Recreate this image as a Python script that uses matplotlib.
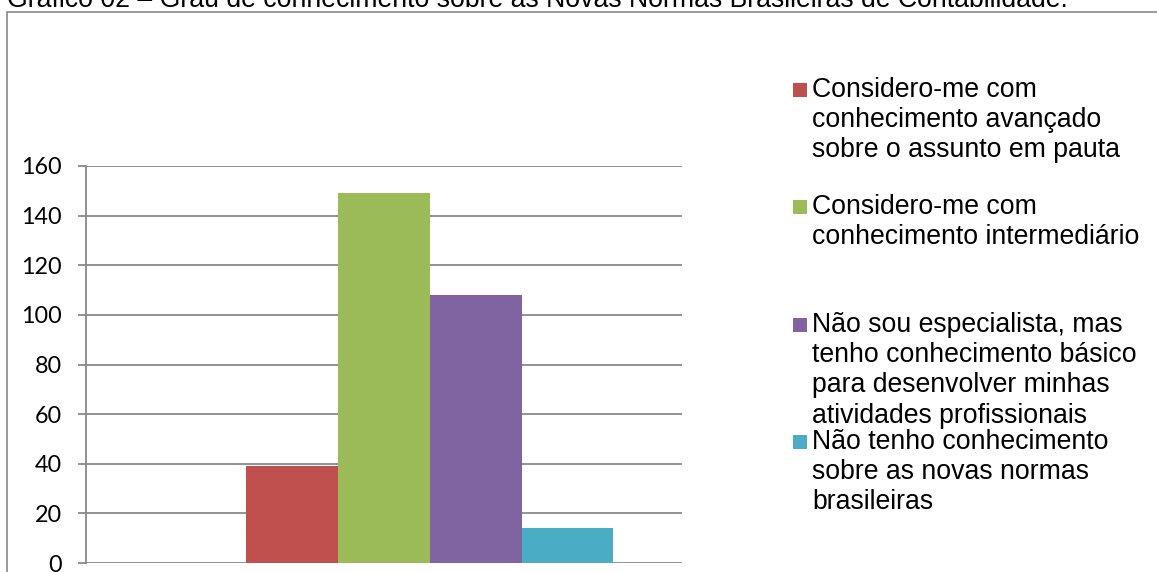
import matplotlib
matplotlib.use('Agg')
import matplotlib.pyplot as plt
from matplotlib.patches import Rectangle

# dados do gráfico
titulo = 'Gráfico 02 – Grau de conhecimento sobre as Novas Normas Brasileiras de Contabilidade.'
series_labels = [
    'Considero-me com\nconhecimento avançado\nsobre o assunto em pauta',
    'Considero-me com\nconhecimento intermediário',
    'Não sou especialista, mas\ntenho conhecimento básico\npara desenvolver minhas\natividades profissionais',
    'Não tenho conhecimento\nsobre as novas normas\nbrasileiras',
]
series_values = [39, 149, 108, 14]
series_colors = ['#C0504D', '#9BBB59', '#8064A2', '#4BACC6']
y_ticks = [0, 20, 40, 60, 80, 100, 120, 140, 160]

W, H = 1157, 572
fig = plt.figure(figsize=(W / 100, H / 100), dpi=100)
grid_col = '#898989'

# moldura (cortada à direita e embaixo)
fig.patches.append(Rectangle((7.3 / W, -0.1), 1.2, 1 - 12.3 / H + 0.1,
                             transform=fig.transFigure, fill=False,
                             edgecolor=grid_col, linewidth=1.2))

fig.text(7 / W, 1 - 7 / H, titulo, fontsize=19.2, family='Liberation Sans',
         ha='left', va='baseline')

ax = fig.add_axes([86 / W, 1 - 563 / H, (682 - 86) / W, (563 - 166) / H])

# 5 posições por categoria (a primeira vazia), gap de 150%
bw = 1 / 6.5
for i, (v, c) in enumerate(zip(series_values, series_colors)):
    slot = i + 1
    ax.bar((slot - 2) * bw, v, width=bw, color=c, zorder=3, linewidth=0)

ax.set_xlim(-0.5, 0.5)
ax.set_ylim(0, 160)
ax.set_yticks(y_ticks)
ax.set_xticks([])
ax.yaxis.grid(True, color=grid_col, linewidth=1.3, zorder=1)
for s in ['top', 'right', 'bottom']:
    ax.spines[s].set_visible(False)
ax.spines['left'].set_color(grid_col)
ax.spines['left'].set_linewidth(1.3)
ax.tick_params(axis='y', length=5.8, width=1.3, color=grid_col, pad=11.5,
               labelsize=16.8)
for t in ax.get_yticklabels():
    t.set_family('Lato')

# legenda manual (espaçamento irregular como no original)
line_centers = [90, 207, 325, 442]
line_step = 30.2
xheight = 0.519 * 26.6
for lab, c, yc in zip(series_labels, series_colors, line_centers):
    fig.patches.append(Rectangle((793 / W, 1 - (yc + 7) / H), 14 / W, 14 / H,
                                 transform=fig.transFigure, facecolor=c,
                                 edgecolor='none'))
    for j, line in enumerate(lab.split('\n')):
        yb = yc + j * line_step + xheight / 2
        fig.text(812 / W, 1 - yb / H, line, fontsize=19.15,
                 family='Liberation Sans', ha='left', va='baseline')

fig.savefig('out.png', dpi=100)
